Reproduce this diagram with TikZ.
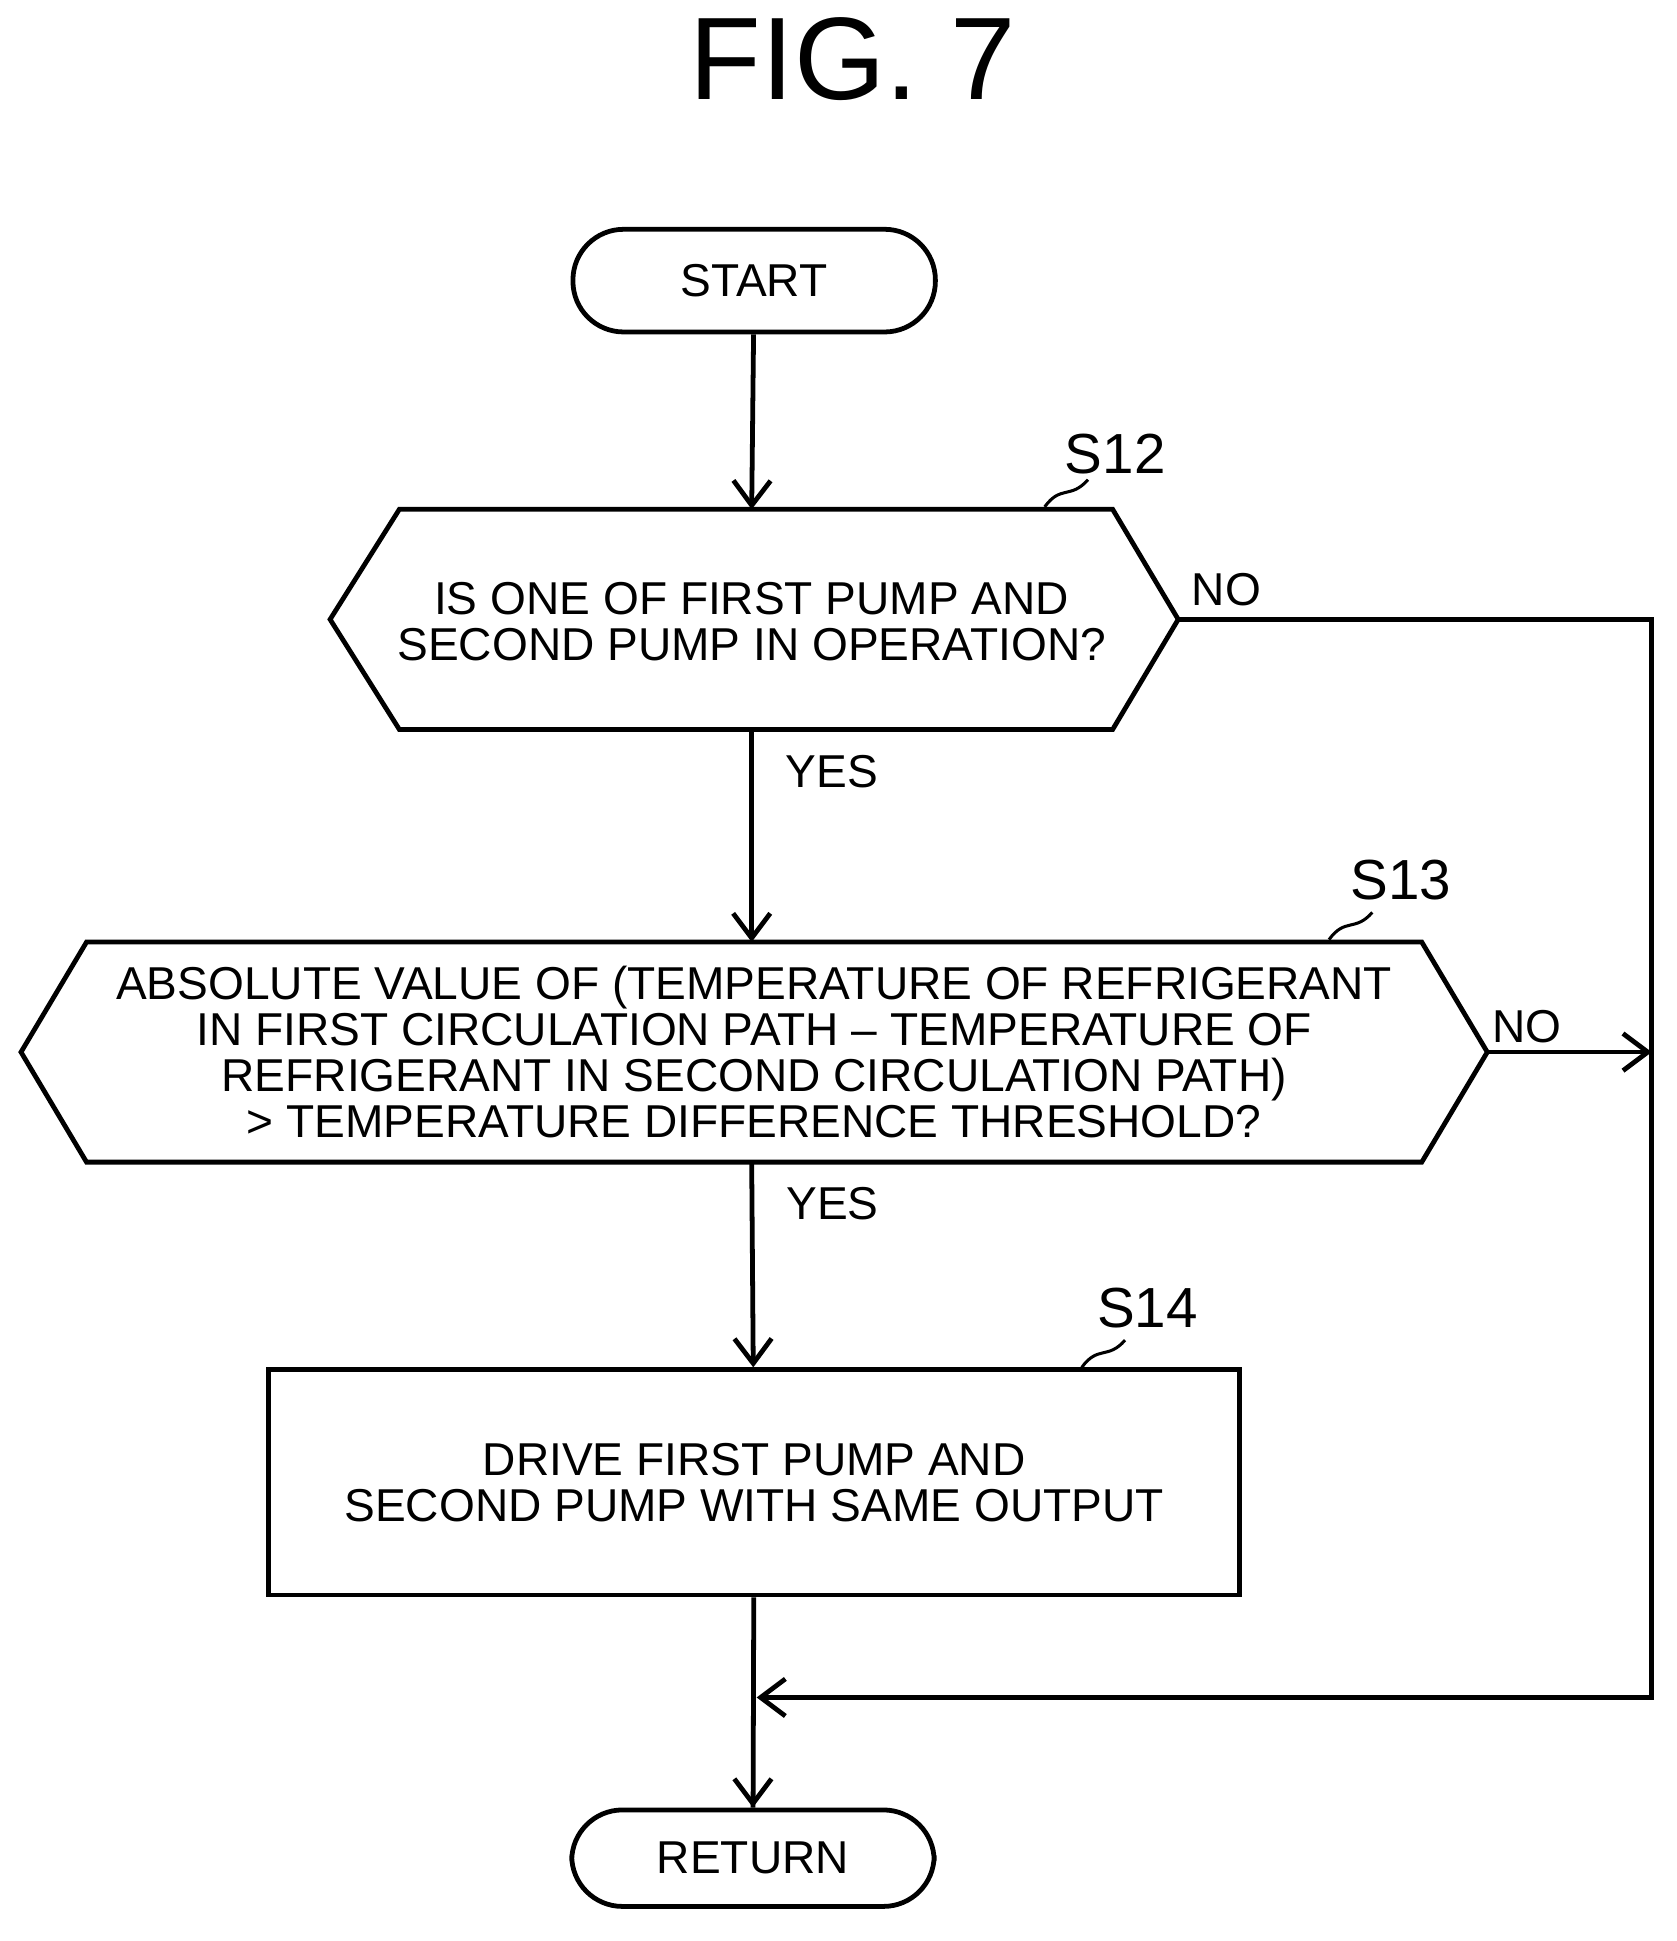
\documentclass[tikz,border=0pt]{standalone}
\usepackage{fontspec}
\setmainfont{Liberation Sans}
\usetikzlibrary{arrows.meta,calc,positioning}
\tikzset{
  box/.style={draw, line width=1.1pt, minimum width=7.85cm, minimum height=1.82cm, align=center},
  term/.style={draw, line width=1.1pt, rounded corners=0.41cm, minimum width=2.93cm, minimum height=0.8cm},
  dec/.style={align=center, inner sep=0pt},
  flow/.style={line width=1.1pt, -{Straight Barb[length=0.2cm,width=0.3cm]}},
  line/.style={line width=1.1pt},
  tag/.style={font=\fontsize{13}{13}\selectfont}
}
\begin{document}
\begin{tikzpicture}[x=0.01cm,y=-0.01cm,font=\fontsize{10.6}{10.6}\selectfont]
\useasboundingbox (0,0) rectangle (1356,1570);

\node[font=\fontsize{27}{27}\selectfont] (title) at (690,48) {FIG. 7};

\node[term,minimum height=0.83cm] (start) at (610,227) {START};

% S12 decision
\node[dec] (s12) at (608,503) {IS ONE OF FIRST PUMP AND\\SECOND PUMP IN OPERATION?};
\coordinate (s12w) at (267,501);
\coordinate (s12e) at (953,501);
\draw[line] (s12w) -- (323,412) -- (900,412) -- (s12e) -- (900,590) -- (323,590) -- cycle;
\node[tag] (l12) at (902,367) {S12};
\draw[line width=0.7pt] (845,410) .. controls (858,392) and (866,404) .. (880,388);

% S13 decision
\node[dec] (s13) at (610,851) {ABSOLUTE VALUE OF (TEMPERATURE OF REFRIGERANT\\
  IN FIRST CIRCULATION PATH -- TEMPERATURE OF\\
  REFRIGERANT IN SECOND CIRCULATION PATH)\\
  > TEMPERATURE DIFFERENCE THRESHOLD?};
\coordinate (s13w) at (17,851);
\coordinate (s13e) at (1203,851);
\draw[line] (s13w) -- (70,762) -- (1150,762) -- (s13e) -- (1150,940) -- (70,940) -- cycle;
\node[tag] (l13) at (1133,712) {S13};
\draw[line width=0.7pt] (1075,760) .. controls (1088,742) and (1096,754) .. (1110,738);

% S14 process
\node[box] (s14) at (610,1199) {DRIVE FIRST PUMP AND\\SECOND PUMP WITH SAME OUTPUT};
\node[tag] (l14) at (928,1058) {S14};
\draw[line width=0.7pt] (875,1106) .. controls (888,1088) and (896,1100) .. (910,1084);

\node[term,minimum height=0.78cm] (ret) at (609,1503) {RETURN};

% connectors
\coordinate (rbus) at (1336,501);
\coordinate (join) at (612,1373);
\draw[flow] (start) -- (608,412);
\draw[flow] (608,590) -- (608,762) node[pos=0.2,right=4pt] (y1) {YES};
\draw[flow] (608,940) -- (s14) node[pos=0.2,right=4pt] (y2) {YES};
\draw[line] (s14) -- (ret);
\draw[flow] (ret |- join) -- (ret);
\draw[flow] (s12e) -- (rbus) -- (rbus |- join) -- (join);
\node (n1) at (992,477) {NO};
\draw[flow] (s13e) -- (1336,851);
\node (n2) at (1235,830) {NO};
\end{tikzpicture}
\end{document}
